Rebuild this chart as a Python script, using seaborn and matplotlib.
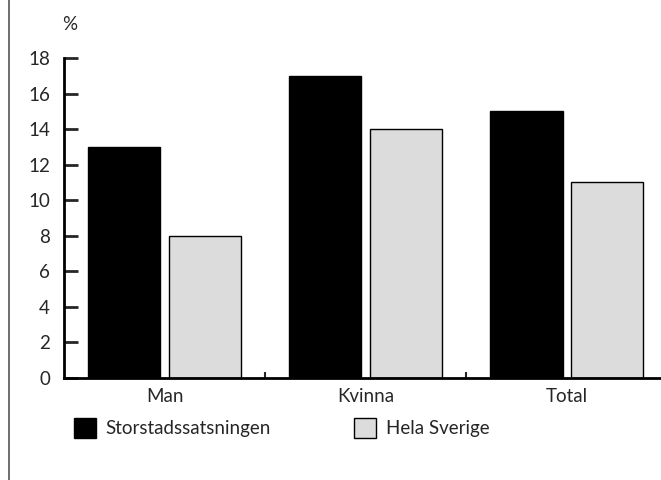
import seaborn as sns
import pandas as pd
import matplotlib.pyplot as plt
from matplotlib.lines import Line2D

groups = ['Man', 'Kvinna', 'Total']
series = ['Storstadssatsningen', 'Hela Sverige']
storstad = [13, 17, 15]
hela_sverige = [8, 14, 11]
yticks = [0, 2, 4, 6, 8, 10, 12, 14, 16, 18]

df = pd.DataFrame({
    'grupp': groups * 2,
    'serie': [series[0]] * 3 + [series[1]] * 3,
    'andel': storstad + hela_sverige,
})

sns.set_style('white')
plt.rcParams['font.family'] = ['Lato', 'DejaVu Sans']
fs = 13.5

fig = plt.figure(figsize=(6.61, 4.80), dpi=100)
ax = fig.add_axes([64 / 661, 102 / 480, 597 / 661, 320 / 480])

sns.barplot(data=df, x='grupp', y='andel', hue='serie', order=groups,
            hue_order=series, palette=['#000000', '#dcdcdc'],
            edgecolor='black', linewidth=1, gap=0.1, width=0.8,
            saturation=1, ax=ax)

ax.set_xlim(-0.5, 2.47)
ax.set_ylim(0, 18)
ax.set_yticks(yticks)
ax.set_xlabel('')
ax.set_ylabel('')
for side in ['top', 'right']:
    ax.spines[side].set_visible(False)
for side in ['left', 'bottom']:
    ax.spines[side].set_linewidth(2)
    ax.spines[side].set_color('black')

ax.tick_params(axis='y', direction='in', length=10, width=2, pad=10,
               labelsize=fs, left=True)
ax.tick_params(axis='x', which='major', length=0, pad=7, labelsize=fs)
ax.set_xticks([0.5, 1.5], minor=True)
ax.tick_params(axis='x', which='minor', direction='in', length=4, width=1.5,
               bottom=True)

fig.text(70 / 661, 1 - 25 / 480, '%', fontsize=fs, ha='center', va='center')

sns.move_legend(ax, loc='center left', bbox_to_anchor=(57 / 661, 1 - 428 / 480),
                bbox_transform=fig.transFigure, ncol=2, frameon=False,
                title=None, fontsize=fs, handlelength=1.2, handleheight=1.2,
                handletextpad=0.5, columnspacing=4.4)

fig.add_artist(Line2D([9 / 661, 9 / 661], [0, 1], color='#555555',
                      linewidth=1.2, transform=fig.transFigure))

fig.savefig('out.png', dpi=100)
